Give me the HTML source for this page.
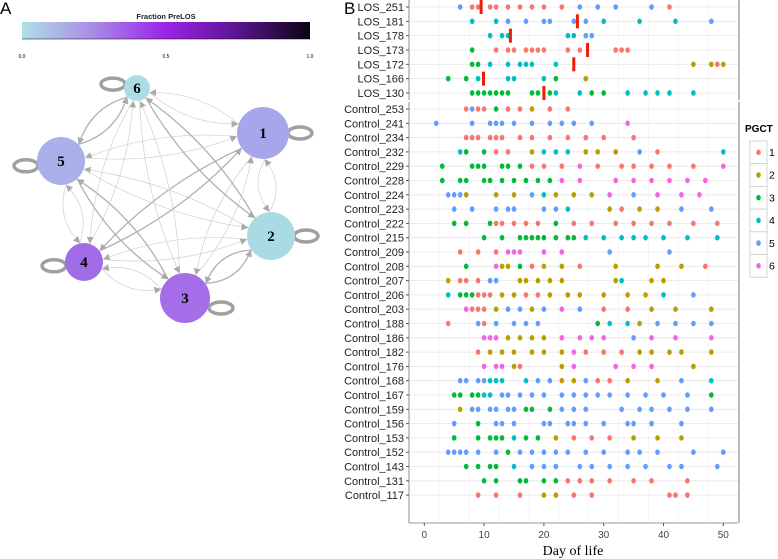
<!DOCTYPE html>
<html><head><meta charset="utf-8"><style>
body{margin:0;background:#fff;width:778px;height:559px;overflow:hidden}
svg{display:block}
text{font-family:"Liberation Sans",sans-serif}
text.serif{font-family:"Liberation Serif",serif}
</style></head><body>
<svg id="s" width="778" height="559" xmlns="http://www.w3.org/2000/svg">
<defs>
<linearGradient id="cb" x1="0" x2="1" y1="0" y2="0"><stop offset="0" stop-color="#aee0e6"/><stop offset="0.25" stop-color="#a98ae6"/><stop offset="0.5" stop-color="#9b22e8"/><stop offset="0.75" stop-color="#5a1590"/><stop offset="1" stop-color="#0b0210"/></linearGradient>
<marker id="ar" markerWidth="7" markerHeight="7" refX="6" refY="3.5" orient="auto" markerUnits="userSpaceOnUse"><path d="M0,0 L7,3.5 L0,7 z" fill="#aaa"/></marker>
</defs>
<text x="0" y="14" font-size="17">A</text>
<text x="166" y="19" font-size="7.5" text-anchor="middle" font-weight="bold" fill="#222">Fraction PreLOS</text>
<rect x="22" y="22" width="288" height="17" fill="url(#cb)"/>
<line x1="22" y1="39" x2="310" y2="39" stroke="#000" stroke-width="0.6"/>
<text x="22" y="58" font-size="5" text-anchor="middle">0.0</text>
<text x="166" y="58" font-size="5" text-anchor="middle">0.5</text>
<text x="310" y="58" font-size="5" text-anchor="middle">1.0</text>
<g id="net"></g>
<g id="chart"></g>
</svg>
<script>
const NS="http://www.w3.org/2000/svg";
function mk(p,t,a){const e=document.createElementNS(NS,t);for(const k in a)e.setAttribute(k,a[k]);p.appendChild(e);return e;}
const nodeIds=[1,2,3,4,5,6];
const nodeX=[263,271,185,84,61,137];
const nodeY=[133,236,298,262,161,88];
const nodeR=[26,24,25,19,24,13];
const nodeCol=["#a8a6ea","#aadbe4","#a56ee8","#9f6ce6","#a9afe8","#acdde4"];
const loopDir=[[1,0],[1,0],[1,0.4],[-1,0.2],[-1,0.2],[-1,-0.3]];
const net=document.getElementById('net');
for(let i=0;i<6;i++)for(let j=0;j<6;j++){if(i===j)continue;
 const x1=nodeX[i],y1=nodeY[i],x2=nodeX[j],y2=nodeY[j];
 const dx=x2-x1,dy=y2-y1,L=Math.hypot(dx,dy);
 const sx=x1+dx/L*nodeR[i],sy=y1+dy/L*nodeR[i],ex=x2-dx/L*(nodeR[j]+1),ey=y2-dy/L*(nodeR[j]+1);
 const cx=(sx+ex)/2-dy/L*18,cy=(sy+ey)/2+dx/L*18;
 const p=mk(net,'path',{d:`M${sx},${sy} Q${cx},${cy} ${ex},${ey}`,fill:'none',stroke:((i+j)%3===0?'#b0b0b0':'#cfcfcf'),'stroke-width':((i+j)%3===0?1.3:0.7),'marker-end':'url(#ar)'});
 
 
}
for(let i=0;i<6;i++){
 const [ux,uy]=loopDir[i];const bx=nodeX[i]+ux*(nodeR[i]-2),by=nodeY[i]+uy*nodeR[i];
 const lp=mk(net,'ellipse',{cx:bx+ux*13,cy:by,rx:12,ry:6,fill:'none',stroke:'#a0a0a0','stroke-width':3.5});
 
 
}
for(let i=0;i<6;i++){
 const c=mk(net,'circle',{cx:nodeX[i],cy:nodeY[i],r:nodeR[i],fill:nodeCol[i]});
 
 
 const t=mk(net,'text',{x:nodeX[i],y:nodeY[i]+5,'font-size':15,'font-weight':'bold','text-anchor':'middle','class':'serif'});
 t.textContent=nodeIds[i];
 
 
}
const colors=["#F8766D","#B79F00","#00BA38","#00BFC4","#619CFF","#F564E3"];
const losNames=["LOS_251","LOS_181","LOS_178","LOS_173","LOS_172","LOS_166","LOS_130"];
const losOnset=[9.5,25.6,14.4,27.3,25,9.9,20];
const ctrlNames=["Control_253","Control_241","Control_234","Control_232","Control_229","Control_228","Control_224","Control_223","Control_222","Control_215","Control_209","Control_208","Control_207","Control_206","Control_203","Control_188","Control_186","Control_182","Control_176","Control_168","Control_167","Control_159","Control_156","Control_153","Control_152","Control_143","Control_131","Control_117"];
const xTicks=[0,10,20,30,40,50];
const losPoints=[
[[6,5],[8,1],[9,1],[11,1],[12,1],[14,1],[16,1],[18,1],[20,1],[23,1],[26,5],[29,5],[32,5],[38,5],[41,1]],
[[8,4],[12,4],[14,5],[17,5],[20,5],[21,5],[25,5],[27,5],[30,4],[36,4],[42,4],[48,5]],
[[11,4],[13,4],[14,4],[24,4],[25,4],[27,5],[28,5]],
[[8,3],[12,1],[14,1],[15,1],[17,1],[18,1],[19,1],[20,1],[24,1],[26,1],[32,1],[33,1],[34,1]],
[[8,3],[9,3],[11,4],[14,4],[16,4],[17,4],[18,4],[22,4],[45,2],[48,2],[49,1],[50,2]],
[[4,3],[7,3],[9,4],[14,4],[15,4],[20,4],[22,3],[27,2]],
[[8,3],[9,3],[10,3],[11,3],[12,3],[13,3],[14,3],[18,3],[19,3],[21,3],[22,4],[26,4],[28,3],[30,3],[34,4],[37,4],[39,4],[41,4],[45,4]]];
const ctrlPoints=[
[[7,1],[8,5],[9,1],[10,1],[12,3],[14,1],[16,1],[18,2],[21,1],[24,1]],
[[2,5],[8,5],[11,5],[12,5],[13,5],[15,5],[18,5],[21,5],[23,5],[25,5],[28,5],[34,6]],
[[7,1],[8,1],[9,1],[11,1],[12,1],[13,1],[16,1],[18,1],[21,1],[24,1],[27,1],[30,1],[35,1]],
[[6,4],[7,3],[10,3],[12,1],[14,1],[18,2],[20,4],[22,4],[24,4],[27,2],[29,2],[32,2],[36,5],[39,1],[50,4]],
[[3,3],[8,3],[9,3],[10,3],[13,3],[14,3],[16,3],[18,1],[20,1],[23,1],[26,6],[29,1],[33,1],[35,1],[38,1],[41,1],[45,1],[50,6]],
[[3,3],[6,3],[7,3],[10,3],[11,3],[13,3],[15,3],[17,3],[19,3],[21,3],[23,6],[26,6],[32,6],[35,6],[38,6],[41,6],[44,6],[47,6]],
[[4,5],[5,5],[6,5],[7,2],[12,2],[15,2],[18,5],[20,4],[22,2],[25,2],[28,2],[31,6],[35,5],[39,6],[43,6],[46,6]],
[[5,5],[8,5],[12,5],[14,5],[15,5],[20,5],[22,5],[24,4],[31,2],[33,1],[36,2],[39,2],[43,5],[48,5]],
[[5,3],[7,3],[11,3],[12,1],[13,1],[15,1],[17,1],[19,1],[22,3],[25,1],[28,1],[32,1],[35,1],[38,1],[41,1],[45,1],[49,1]],
[[10,3],[13,3],[16,3],[17,3],[18,3],[19,3],[20,3],[22,3],[24,3],[25,3],[27,4],[30,4],[33,4],[35,4],[37,4],[40,4],[44,4],[49,4]],
[[6,1],[9,1],[12,1],[14,6],[15,6],[16,6],[20,6],[23,6],[31,5],[41,5]],
[[7,3],[12,6],[13,2],[14,2],[16,3],[18,1],[20,2],[23,2],[26,1],[32,2],[39,2],[43,2],[47,1]],
[[4,2],[6,1],[7,1],[9,1],[11,5],[12,5],[16,2],[17,2],[19,2],[21,2],[23,2],[32,2],[33,4],[38,2],[40,2]],
[[4,4],[6,3],[7,3],[8,3],[9,1],[10,1],[11,1],[13,2],[15,2],[17,1],[19,1],[21,2],[24,2],[26,2],[30,2],[34,2],[37,2],[40,4],[45,5]],
[[7,6],[8,1],[9,1],[10,1],[12,2],[14,5],[16,5],[18,2],[20,5],[23,6],[26,5],[30,1],[34,1],[38,2],[42,2],[48,2]],
[[4,1],[9,5],[10,1],[12,5],[15,5],[17,5],[19,5],[29,3],[31,4],[34,4],[36,2],[39,5],[42,5],[45,5],[48,5]],
[[10,6],[11,6],[12,6],[14,2],[16,2],[18,2],[20,2],[23,6],[26,6],[28,6],[30,6],[35,5],[38,6],[42,6],[48,6]],
[[9,1],[11,2],[13,2],[15,2],[18,2],[20,2],[23,2],[25,6],[27,1],[30,1],[33,1],[36,2],[38,2],[41,2],[43,2],[48,2]],
[[10,6],[12,6],[13,6],[15,2],[16,1],[23,2],[25,6],[32,6],[35,6],[38,6],[45,2]],
[[6,5],[7,5],[9,5],[10,5],[11,4],[12,4],[13,4],[17,4],[19,5],[21,5],[23,2],[25,2],[27,5],[29,1],[31,1],[34,2],[39,2],[43,5],[48,4]],
[[5,3],[6,3],[8,3],[9,3],[10,4],[11,4],[13,5],[14,5],[16,5],[18,5],[20,5],[23,5],[25,5],[27,5],[29,5],[31,5],[34,5],[37,5],[40,5],[44,5],[48,3]],
[[6,2],[8,5],[9,5],[11,5],[12,5],[14,5],[15,5],[17,3],[18,3],[21,3],[23,5],[25,5],[27,5],[33,5],[36,5],[38,5],[41,5],[44,5],[48,5]],
[[5,5],[9,3],[12,5],[13,5],[15,5],[20,5],[21,5],[24,5],[25,5],[27,5],[30,5],[34,5],[35,5],[38,5],[43,5]],
[[5,3],[9,3],[11,3],[12,3],[13,3],[15,4],[17,3],[19,3],[22,2],[25,1],[28,1],[31,1],[35,2],[39,2],[43,2]],
[[4,5],[5,5],[6,5],[7,5],[9,5],[12,5],[14,3],[16,5],[18,5],[20,5],[22,5],[24,5],[27,5],[30,5],[34,5],[36,5],[39,5],[45,5],[50,5]],
[[7,3],[9,3],[11,3],[12,3],[15,4],[18,5],[20,5],[22,5],[26,5],[28,5],[31,5],[34,5],[37,5],[41,5],[43,5],[49,5]],
[[10,3],[12,3],[16,3],[17,3],[20,3],[22,3],[24,1],[26,1],[28,1],[31,1],[35,1],[38,1],[44,1]],
[[9,1],[12,1],[16,1],[20,2],[22,2],[25,1],[28,1],[41,1],[42,1],[44,1]]];
const X0=424.3,PX=5.98;
function xs(d){return X0+d*PX;}
function yLos(i){return 7+14.33*i;}
function yCtrl(j){return 109+14.3*j;}
const ch=document.getElementById('chart');
const PL=409,PR=738,T1=0,B1=100,T2=102,B2=523;
function gt(t,a,txt,name,inter){const e=mk(ch,t,a);if(txt!==undefined)e.textContent=txt;return e;}
mk(ch,'text',{x:344,y:14,'font-size':17}).textContent='B';
[[T1,B1],[T2,B2]].forEach(([t,b])=>{
 mk(ch,'rect',{x:PL,y:t,width:PR-PL,height:b-t,fill:'#fff'});
 for(let d=-2.5;d<=52.5;d+=5){if(xs(d)<PL||xs(d)>PR)continue;const maj=d%10===0;
  mk(ch,'line',{x1:xs(d),x2:xs(d),y1:t,y2:b,stroke:maj?'#e0e0e0':'#f0f0f0','stroke-width':maj?1:0.6});}
 mk(ch,'line',{x1:PL,x2:PL,y1:t,y2:b,stroke:'#777','stroke-width':0.8});
 mk(ch,'rect',{x:PR,y:t,width:2,height:b-t,fill:'#bbb'});
});
for(let i=0;i<losNames.length;i++){const y=yLos(i);
 mk(ch,'line',{x1:PL,x2:PR,y1:y,y2:y,stroke:'#e6e6e6','stroke-width':0.8});
 gt('text',{x:404,y:y+4,'font-size':11,'text-anchor':'end',fill:'#222'},losNames[i],'row-label');
 mk(ch,'line',{x1:406,x2:409,y1:y,y2:y,stroke:'#555'});}
for(let j=0;j<ctrlNames.length;j++){const y=yCtrl(j);
 mk(ch,'line',{x1:PL,x2:PR,y1:y,y2:y,stroke:'#e6e6e6','stroke-width':0.8});
 gt('text',{x:404,y:y+4,'font-size':11,'text-anchor':'end',fill:'#222'},ctrlNames[j],'row-label');
 mk(ch,'line',{x1:406,x2:409,y1:y,y2:y,stroke:'#555'});}
mk(ch,'line',{x1:PL,x2:PR,y1:B2,y2:B2,stroke:'#777','stroke-width':0.8});
xTicks.forEach(v=>{mk(ch,'line',{x1:xs(v),x2:xs(v),y1:B2,y2:B2+3,stroke:'#555'});
 gt('text',{x:xs(v),y:538,'font-size':10,'text-anchor':'middle',fill:'#444'},String(v),'x-tick-label');});
gt('text',{x:573,y:555,'font-size':14,'text-anchor':'middle','class':'serif'},'Day of life','x-axis-title');
function dots(rows,yf){rows.forEach((r,i)=>r.forEach(([d,c])=>{
 const e=mk(ch,'ellipse',{cx:xs(d),cy:yf(i),rx:2.3,ry:2.8,fill:colors[c-1]});
 
 }));}
dots(losPoints,yLos);dots(ctrlPoints,yCtrl);
losOnset.forEach((d,i)=>{const e=mk(ch,'rect',{x:xs(d)-1.5,y:yLos(i)-7,width:3,height:14,fill:'#f01a0a'});
 
 });
gt('text',{x:745,y:132,'font-size':10,'font-weight':'bold'},'PGCT','legend-title');
for(let k=0;k<6;k++){const y=141+k*22.7;
 const r=mk(ch,'rect',{x:750,y:y,width:17,height:22.7,fill:'#fff',stroke:'#ccc','stroke-width':0.8});
 
 
 mk(ch,'ellipse',{cx:758.5,cy:y+11.3,rx:2.3,ry:2.8,fill:colors[k]});
 gt('text',{x:769,y:y+15,'font-size':10.5},String(k+1),'legend-label');}
</script>
</body></html>
